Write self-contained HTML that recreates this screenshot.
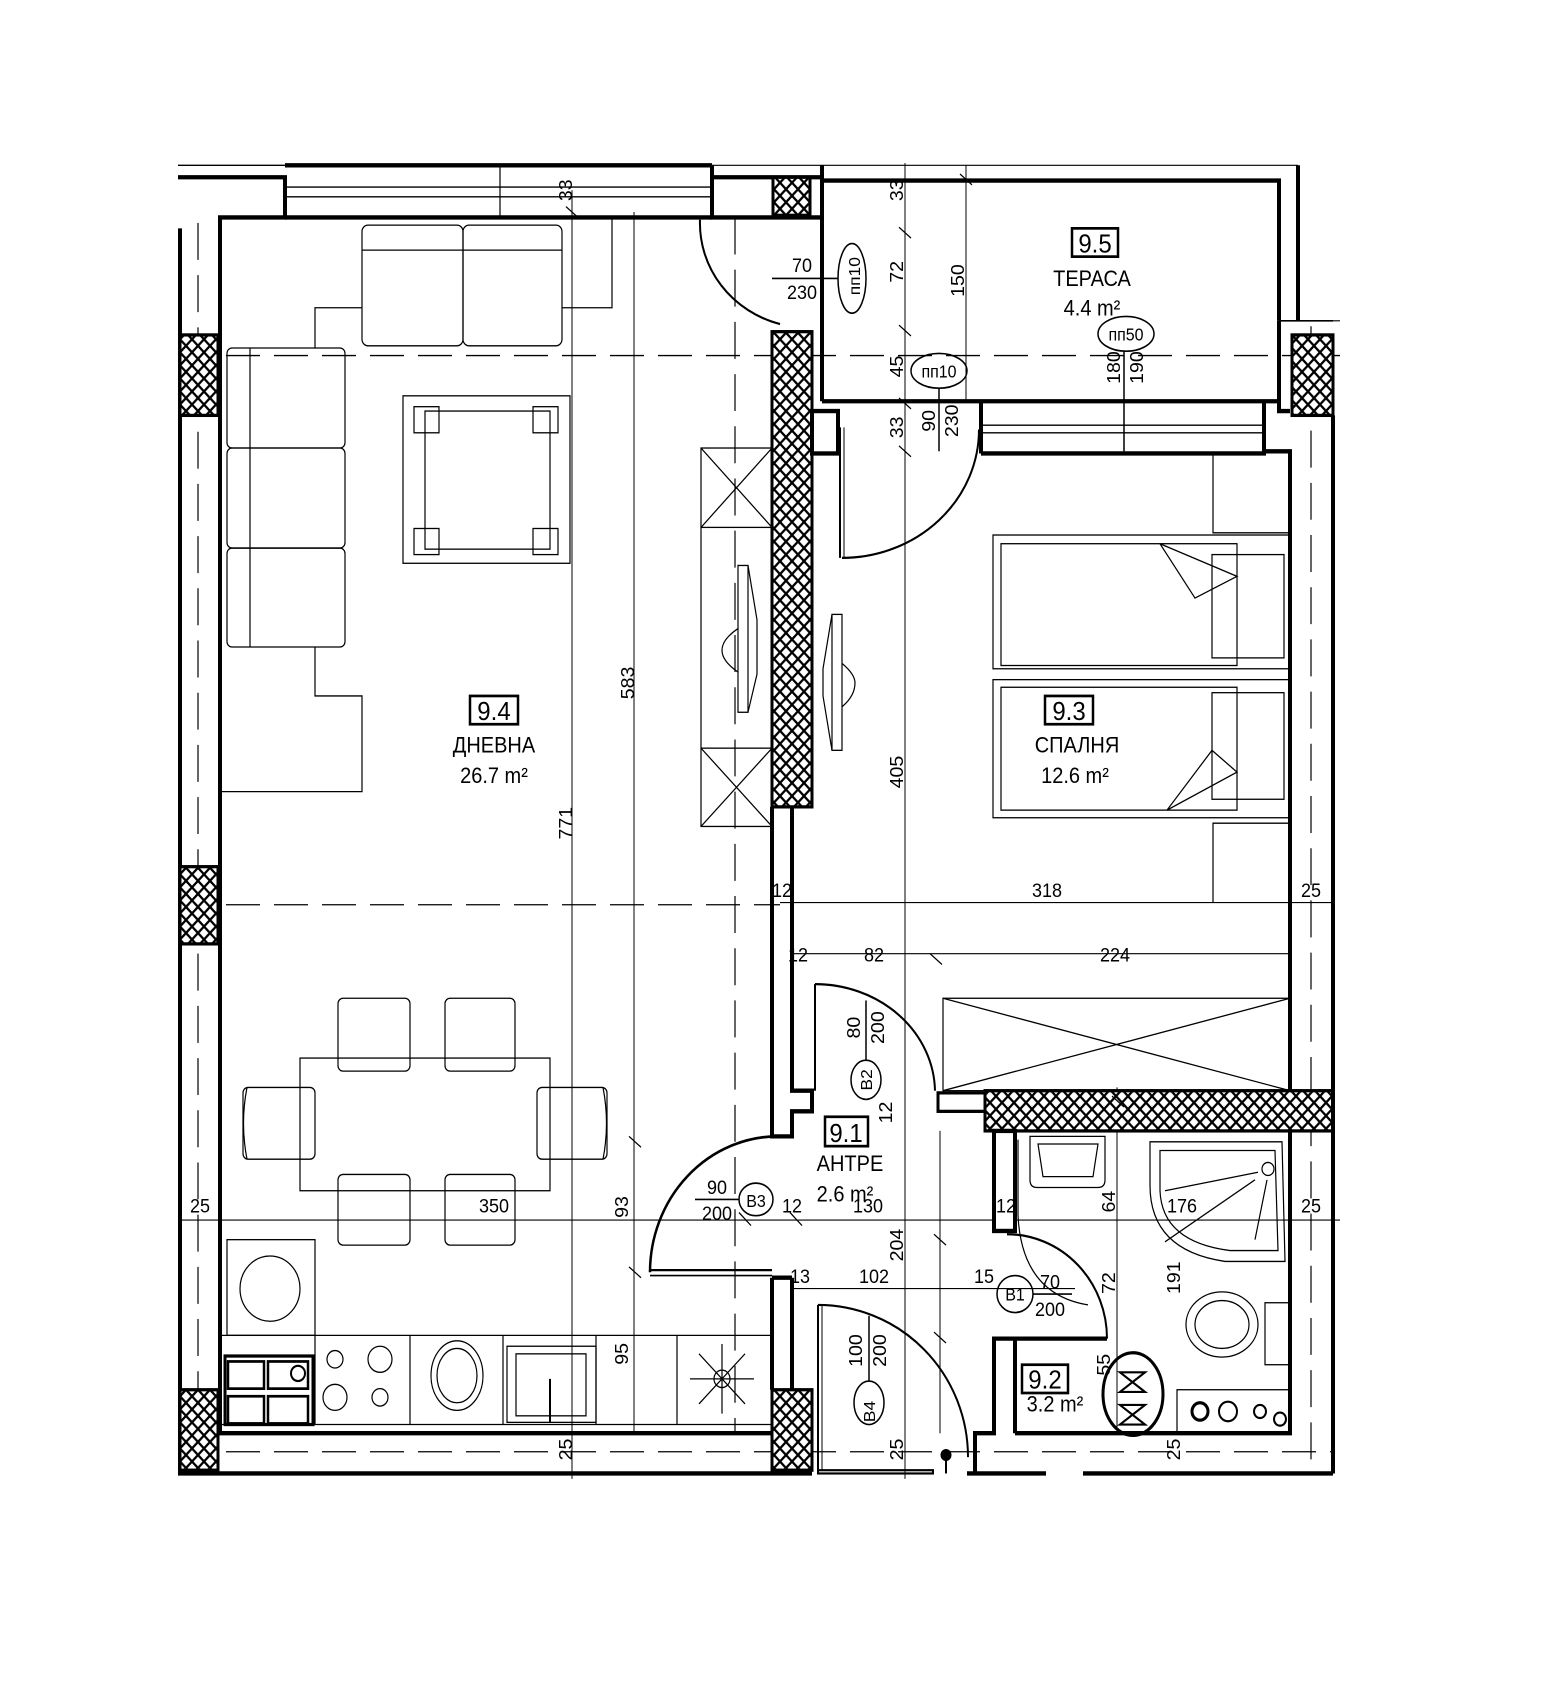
<!DOCTYPE html>
<html><head><meta charset="utf-8"><style>
html,body{margin:0;padding:0;background:#fff;}
svg{display:block;}
text{font-family:"Liberation Sans",sans-serif;fill:#000;}
</style></head><body>
<svg width="1566" height="1704" viewBox="0 0 1566 1567" preserveAspectRatio="none" xmlns="http://www.w3.org/2000/svg">
<defs>
<pattern id="h" width="12" height="12" patternUnits="userSpaceOnUse">
<rect width="12" height="12" fill="#fff"/>
<path d="M0,0L12,12M12,0L0,12" stroke="#000" stroke-width="2.2"/>
</pattern>
</defs>
<rect width="1566" height="1567" fill="#fff"/>
<g fill="none" stroke="#000">
<g stroke-width="1.2" stroke-dasharray="34,14">
<line x1="178" y1="327" x2="1340" y2="327"/>
<line x1="178" y1="832" x2="780" y2="832"/>
<line x1="198" y1="205" x2="198" y2="1352"/>
<line x1="735" y1="200" x2="735" y2="1318"/>
<line x1="1311" y1="300" x2="1311" y2="1352"/>
<line x1="178" y1="1335" x2="1333" y2="1335"/>
</g>
<g stroke-width="1">
<line x1="572" y1="175" x2="572" y2="1360"/>
<line x1="634" y1="195" x2="634" y2="1318"/>
<line x1="905" y1="150" x2="905" y2="1360"/>
<line x1="966" y1="152" x2="966" y2="370"/>
<line x1="1124" y1="330" x2="1124" y2="415"/>
<line x1="1117" y1="1000" x2="1117" y2="1318"/>
<line x1="940" y1="1040" x2="940" y2="1318"/>
<line x1="780" y1="830" x2="1333" y2="830"/>
<line x1="790" y1="877" x2="1290" y2="877"/>
<line x1="178" y1="1122" x2="1340" y2="1122"/>
<line x1="790" y1="1185" x2="1075" y2="1185"/>
<line x1="285" y1="152" x2="1298" y2="152"/>
<line x1="1298" y1="295" x2="1340" y2="295"/>
</g>
<g stroke-width="1.2">
<line x1="285" y1="172" x2="712" y2="172"/>
<line x1="285" y1="181" x2="712" y2="181"/>
<line x1="500" y1="152" x2="500" y2="200"/>
<line x1="178" y1="152" x2="285" y2="152"/>
</g>
<g stroke-width="4">
<polyline points="178,163 285,163 285,200 220,200 220,1318 772,1318"/>
<line x1="285" y1="200" x2="712" y2="200"/>
<line x1="285" y1="152" x2="712" y2="152"/>
<polyline points="712,152 712,200 822,200"/>
<line x1="712" y1="163" x2="822" y2="163"/>
<line x1="180" y1="210" x2="180" y2="1355"/>
<line x1="178" y1="1355" x2="812" y2="1355"/>
</g>
<g stroke-width="3" fill="url(#h)">
<rect x="773" y="163" width="37" height="35"/>
<rect x="180" y="308" width="38" height="74"/>
<rect x="180" y="797" width="38" height="71"/>
<rect x="180" y="1278" width="38" height="74"/>
<rect x="772" y="305" width="40" height="437"/>
<rect x="772" y="1278" width="40" height="74"/>
<rect x="1292" y="308" width="41" height="74"/>
<rect x="985" y="1003" width="348" height="37"/>
</g>
<g stroke-width="4">
<polyline points="772,742 772,1045 792,1045 792,1022 812,1022 812,1003 792,1003 792,742"/>
<line x1="792" y1="1175" x2="792" y2="1278"/>
<line x1="772" y1="1175" x2="772" y2="1278"/>
<line x1="772" y1="1175" x2="792" y2="1175"/>
</g>
<path d="M700,202 A108,96 0 0 0 780,298" stroke-width="2"/>
<g stroke-width="4">
<line x1="822" y1="152" x2="822" y2="369"/>
<polyline points="822,166 1279,166 1279,295"/>
<polyline points="1298,152 1298,295"/>
<polyline points="822,369 1279,369 1279,378 1290,378"/>
<line x1="1279" y1="295" x2="1279" y2="369"/>
<line x1="1279" y1="295" x2="1333" y2="295" stroke-width="1.5"/>
<rect x="812" y="378" width="26" height="39" fill="#fff"/>
<line x1="981" y1="369" x2="981" y2="417"/>
<line x1="1264" y1="369" x2="1264" y2="417"/>
<polyline points="981,417 1264,417 1264,415 1290,415 1290,1003"/>
<line x1="1333" y1="382" x2="1333" y2="1355"/>
</g>
<g stroke-width="1.2">
<line x1="981" y1="391" x2="1264" y2="391"/>
<line x1="981" y1="398" x2="1264" y2="398"/>
</g>
<line x1="840" y1="393" x2="840" y2="513" stroke-width="2"/>
<line x1="844" y1="393" x2="844" y2="513" stroke-width="1"/>
<path d="M979,395 A137,118 0 0 1 842,513" stroke-width="2"/>
<g stroke-width="1.5">
<ellipse cx="852" cy="256" rx="14" ry="32"/>
<line x1="772" y1="256" x2="838" y2="256"/>
<ellipse cx="939" cy="341" rx="28" ry="16"/>
<line x1="939" y1="357" x2="939" y2="415"/>
<ellipse cx="1126" cy="307" rx="28" ry="16"/>
<line x1="1124" y1="323" x2="1124" y2="415"/>
</g>
<g stroke-width="1.2">
<polyline points="1213,418 1213,490 1290,490"/>
<rect x="993" y="492" width="297" height="123"/>
<rect x="1001" y="500" width="236" height="112"/>
<rect x="1212" y="510" width="72" height="95"/>
<polyline points="1160,500 1195,550 1237,530 1160,500"/>
<rect x="993" y="625" width="297" height="127"/>
<rect x="1001" y="632" width="236" height="113"/>
<rect x="1212" y="637" width="72" height="98"/>
<polyline points="1167,745 1212,690 1237,710 1167,745"/>
<polyline points="1290,757 1213,757 1213,830"/>
<rect x="943" y="918" width="347" height="85"/>
<path d="M943,918 L1290,1003 M1290,918 L943,1003"/>
</g>
<line x1="815" y1="905" x2="815" y2="1003" stroke-width="2"/>
<path d="M815,905 A120,100 0 0 1 935,1003" stroke-width="2"/>
<rect x="938" y="1005" width="47" height="17" stroke-width="3"/>
<g stroke-width="4">
<rect x="994" y="1040" width="21" height="92" fill="#fff"/>
<polyline points="1107,1231 994,1231 994,1318 975,1318 975,1355"/>
<line x1="1015" y1="1231" x2="1015" y2="1318"/>
<polyline points="1015,1318 1290,1318 1290,1040"/>
<line x1="967" y1="1355" x2="1046" y2="1355"/>
<line x1="1083" y1="1355" x2="1333" y2="1355"/>
<rect x="818" y="1352" width="115" height="3" stroke-width="2"/>
</g>
<path d="M1007,1135 A100,96 0 0 1 1107,1231" stroke-width="2"/>
<g stroke-width="1.2">
<path d="M1030,1045 L1105,1045 L1105,1085 Q1105,1092 1098,1092 L1037,1092 Q1030,1092 1030,1085 Z"/>
<path d="M1038,1052 L1098,1052 L1093,1082 L1043,1082 Z"/>
<path d="M1150,1050 L1282,1050 L1285,1160 L1225,1160 Q1150,1150 1150,1090 Z"/>
<path d="M1160,1058 L1275,1058 L1278,1150 L1230,1150 Q1162,1142 1160,1095 Z"/>
<circle cx="1268" cy="1075" r="6"/>
<line x1="1165" y1="1095" x2="1258" y2="1078"/>
<line x1="1165" y1="1142" x2="1255" y2="1085"/>
<line x1="1255" y1="1140" x2="1267" y2="1085"/>
<path d="M1018,1048 L1018,1118 Q1022,1190 1088,1200"/>
<ellipse cx="1222" cy="1218" rx="36" ry="30"/>
<ellipse cx="1222" cy="1218" rx="27" ry="22"/>
<rect x="1265" y="1198" width="25" height="57"/>
<rect x="1177" y="1278" width="113" height="40"/>
<circle cx="1200" cy="1298" r="8" stroke-width="3"/>
<circle cx="1228" cy="1298" r="9" stroke-width="2"/>
<circle cx="1260" cy="1298" r="6" stroke-width="2"/>
<circle cx="1280" cy="1305" r="6" stroke-width="2"/>
<ellipse cx="1133" cy="1282" rx="30" ry="38" stroke-width="3"/>
<path d="M1120,1262 L1145,1262 L1120,1280 L1145,1280 Z M1120,1292 L1145,1292 L1120,1310 L1145,1310 Z" stroke-width="2"/>
</g>
<line x1="818" y1="1200" x2="818" y2="1352" stroke-width="2"/>
<line x1="822" y1="1200" x2="822" y2="1352" stroke-width="1"/>
<path d="M818,1200 A150,140 0 0 1 968,1340" stroke-width="2"/>
<circle cx="946" cy="1338" r="5" fill="#000"/>
<line x1="946" y1="1338" x2="946" y2="1355" stroke-width="2"/>
<path d="M650,1170 A128,125 0 0 1 778,1045" stroke-width="2.5"/>
<line x1="650" y1="1168" x2="772" y2="1168" stroke-width="2"/>
<line x1="650" y1="1173" x2="772" y2="1173" stroke-width="1.5"/>
<g stroke-width="1.5">
<ellipse cx="866" cy="993" rx="15" ry="18"/>
<line x1="866" y1="975" x2="866" y2="920"/>
<ellipse cx="756" cy="1103" rx="17" ry="15"/>
<line x1="695" y1="1103" x2="739" y2="1103"/>
<ellipse cx="1015" cy="1190" rx="18" ry="17"/>
<line x1="1033" y1="1190" x2="1072" y2="1190"/>
<ellipse cx="869" cy="1290" rx="15" ry="20"/>
<line x1="869" y1="1270" x2="869" y2="1210"/>
</g>
<g stroke-width="1.2">
<rect x="362" y="207" width="101" height="111" rx="6"/>
<rect x="463" y="207" width="99" height="111" rx="6"/>
<line x1="362" y1="230" x2="562" y2="230"/>
<polyline points="362,283 315,283 315,320"/>
<polyline points="562,283 612,283 612,200"/>
<rect x="227" y="320" width="118" height="92" rx="5"/>
<rect x="227" y="412" width="118" height="92" rx="5"/>
<rect x="227" y="504" width="118" height="91" rx="5"/>
<line x1="250" y1="320" x2="250" y2="595"/>
<polyline points="315,595 315,640 362,640 362,728 220,728"/>
<rect x="403" y="364" width="167" height="154"/>
<rect x="425" y="378" width="125" height="127"/>
<rect x="414" y="374" width="25" height="24"/><rect x="533" y="374" width="25" height="24"/>
<rect x="414" y="486" width="25" height="24"/><rect x="533" y="486" width="25" height="24"/>
<rect x="701" y="412" width="71" height="73"/><path d="M701,412L772,485M772,412L701,485"/>
<rect x="701" y="688" width="71" height="72"/><path d="M701,688L772,760M772,688L701,760"/>
<line x1="701" y1="485" x2="701" y2="688"/>
<rect x="738" y="520" width="10" height="135"/>
<path d="M748,520 L757,570 L757,620 L748,655 M738,578 Q722,588 722,598 Q722,608 738,618"/>
<rect x="832" y="565" width="10" height="125"/>
<path d="M832,565 L823,615 L823,640 L832,690 M842,610 Q855,620 855,628 Q855,640 842,650"/>
<rect x="300" y="973" width="250" height="122"/>
<rect x="338" y="918" width="72" height="67" rx="5"/>
<rect x="445" y="918" width="70" height="67" rx="5"/>
<rect x="338" y="1080" width="72" height="65" rx="5"/>
<rect x="445" y="1080" width="70" height="65" rx="5"/>
<rect x="243" y="1000" width="72" height="66" rx="5"/>
<rect x="537" y="1000" width="70" height="66" rx="5"/>
<path d="M247,1000 Q240,1033 247,1066 M603,1000 Q610,1033 603,1066"/>
<rect x="227" y="1140" width="88" height="88"/>
<ellipse cx="270" cy="1185" rx="30" ry="30"/>
<line x1="220" y1="1228" x2="772" y2="1228"/>
<line x1="315" y1="1228" x2="315" y2="1310"/>
<line x1="410" y1="1228" x2="410" y2="1310"/>
<line x1="503" y1="1228" x2="503" y2="1310"/>
<line x1="596" y1="1228" x2="596" y2="1310"/>
<line x1="677" y1="1228" x2="677" y2="1310"/>
<line x1="220" y1="1310" x2="772" y2="1310"/>
<rect x="225" y="1247" width="88" height="63" stroke-width="3"/>
<rect x="228" y="1252" width="36" height="25" stroke-width="2.5"/>
<rect x="228" y="1284" width="36" height="25" stroke-width="2.5"/>
<rect x="268" y="1252" width="40" height="25" stroke-width="2.5"/>
<rect x="268" y="1284" width="40" height="25" stroke-width="2.5"/>
<circle cx="298" cy="1263" r="7" stroke-width="2"/>
<circle cx="335" cy="1250" r="8"/><circle cx="380" cy="1250" r="12"/>
<circle cx="335" cy="1285" r="12"/><circle cx="380" cy="1285" r="8"/>
<ellipse cx="457" cy="1265" rx="26" ry="32"/><ellipse cx="457" cy="1265" rx="20" ry="25"/>
<rect x="507" y="1238" width="89" height="70"/>
<rect x="516" y="1245" width="70" height="57"/>
<line x1="550" y1="1268" x2="550" y2="1308" stroke-width="2"/>
<circle cx="722" cy="1268" r="8"/>
<path d="M690,1268H754M722,1236V1300M699,1245L745,1291M745,1245L699,1291"/>
</g>
<g stroke-width="1.2">
<path d="M899,209 l12,10 M899,299 l12,10 M899,366 l12,10 M899,410 l12,10 M960,160 l12,10 M566,190 l12,10 M629,1045 l12,10 M629,1165 l12,10 M934,1135 l12,10 M934,1225 l12,10 M739,1115 l12,12 M790,1115 l12,12 M930,877 l12,10 M1112,1008 l12,10"/>
</g>
</g>
<g font-size="20">
<rect x="470" y="640" width="48" height="26" fill="none" stroke="#000" stroke-width="2.5"/>
<text x="494" y="662" font-size="24" text-anchor="middle">9.4</text>
<text x="494" y="692" text-anchor="middle">ДНЕВНА</text>
<text x="494" y="720" text-anchor="middle">26.7 m²</text>
<rect x="1045" y="640" width="48" height="26" fill="none" stroke="#000" stroke-width="2.5"/>
<text x="1069" y="662" font-size="24" text-anchor="middle">9.3</text>
<text x="1077" y="692" text-anchor="middle">СПАЛНЯ</text>
<text x="1075" y="720" text-anchor="middle">12.6 m²</text>
<rect x="1072" y="210" width="46" height="26" fill="none" stroke="#000" stroke-width="2.5"/>
<text x="1095" y="232" font-size="24" text-anchor="middle">9.5</text>
<text x="1092" y="263" text-anchor="middle">ТЕРАСА</text>
<text x="1092" y="290" text-anchor="middle">4.4 m²</text>
<rect x="825" y="1027" width="43" height="27" fill="none" stroke="#000" stroke-width="2.5"/>
<text x="846" y="1050" font-size="24" text-anchor="middle">9.1</text>
<text x="850" y="1077" text-anchor="middle">АНТРЕ</text>
<text x="845" y="1105" text-anchor="middle">2.6 m²</text>
<rect x="1022" y="1255" width="46" height="26" fill="none" stroke="#000" stroke-width="2.5"/>
<text x="1045" y="1277" font-size="24" text-anchor="middle">9.2</text>
<text x="1055" y="1298" text-anchor="middle">3.2 m²</text>
</g>
<g font-size="18" text-anchor="middle">
<text x="802" y="250">70</text><text x="802" y="275">230</text>
<text x="717" y="1098">90</text><text x="717" y="1122">200</text>
<text x="1050" y="1185">70</text><text x="1050" y="1210">200</text>
<text x="494" y="1115">350</text>
<text x="200" y="1115">25</text>
<text x="1311" y="1115">25</text>
<text x="868" y="1115">130</text>
<text x="1006" y="1115">12</text>
<text x="1182" y="1115">176</text>
<text x="792" y="1115">12</text>
<text x="1047" y="825">318</text>
<text x="1311" y="825">25</text>
<text x="782" y="825">12</text>
<text x="798" y="884">12</text>
<text x="874" y="884">82</text>
<text x="1115" y="884">224</text>
<text x="800" y="1180">13</text>
<text x="874" y="1180">102</text>
<text x="984" y="1180">15</text>
<text x="756" y="1110" font-size="16">B3</text>
<text x="1015" y="1196" font-size="16">B1</text>
</g>
<g font-size="18" text-anchor="middle">
<text transform="translate(572,175) rotate(-90)">33</text>
<text transform="translate(634,628) rotate(-90)">583</text>
<text transform="translate(572,757) rotate(-90)">771</text>
<text transform="translate(628,1110) rotate(-90)">93</text>
<text transform="translate(628,1245) rotate(-90)">95</text>
<text transform="translate(572,1333) rotate(-90)">25</text>
<text transform="translate(903,175) rotate(-90)">33</text>
<text transform="translate(903,250) rotate(-90)">72</text>
<text transform="translate(903,337) rotate(-90)">45</text>
<text transform="translate(903,393) rotate(-90)">33</text>
<text transform="translate(964,258) rotate(-90)">150</text>
<text transform="translate(935,387) rotate(-90)">90</text>
<text transform="translate(958,387) rotate(-90)">230</text>
<text transform="translate(1120,338) rotate(-90)">180</text>
<text transform="translate(1143,338) rotate(-90)">190</text>
<text transform="translate(903,710) rotate(-90)">405</text>
<text transform="translate(903,1145) rotate(-90)">204</text>
<text transform="translate(903,1333) rotate(-90)">25</text>
<text transform="translate(1115,1105) rotate(-90)">64</text>
<text transform="translate(1115,1180) rotate(-90)">72</text>
<text transform="translate(1180,1175) rotate(-90)">191</text>
<text transform="translate(1110,1255) rotate(-90)">55</text>
<text transform="translate(1180,1333) rotate(-90)">25</text>
<text transform="translate(860,945) rotate(-90)">80</text>
<text transform="translate(884,945) rotate(-90)">200</text>
<text transform="translate(892,1023) rotate(-90)">12</text>
<text transform="translate(860,254) rotate(-90)" font-size="16">пп10</text>
<text transform="translate(862,1242) rotate(-90)">100</text>
<text transform="translate(886,1242) rotate(-90)">200</text>
<text transform="translate(875,1298) rotate(-90)" font-size="16">B4</text>
<text transform="translate(872,993) rotate(-90)" font-size="16">B2</text>
</g>
<g font-size="16" text-anchor="middle">
<text x="939" y="347">пп10</text>
<text x="1126" y="313">пп50</text>
</g>
</svg>
</body></html>
